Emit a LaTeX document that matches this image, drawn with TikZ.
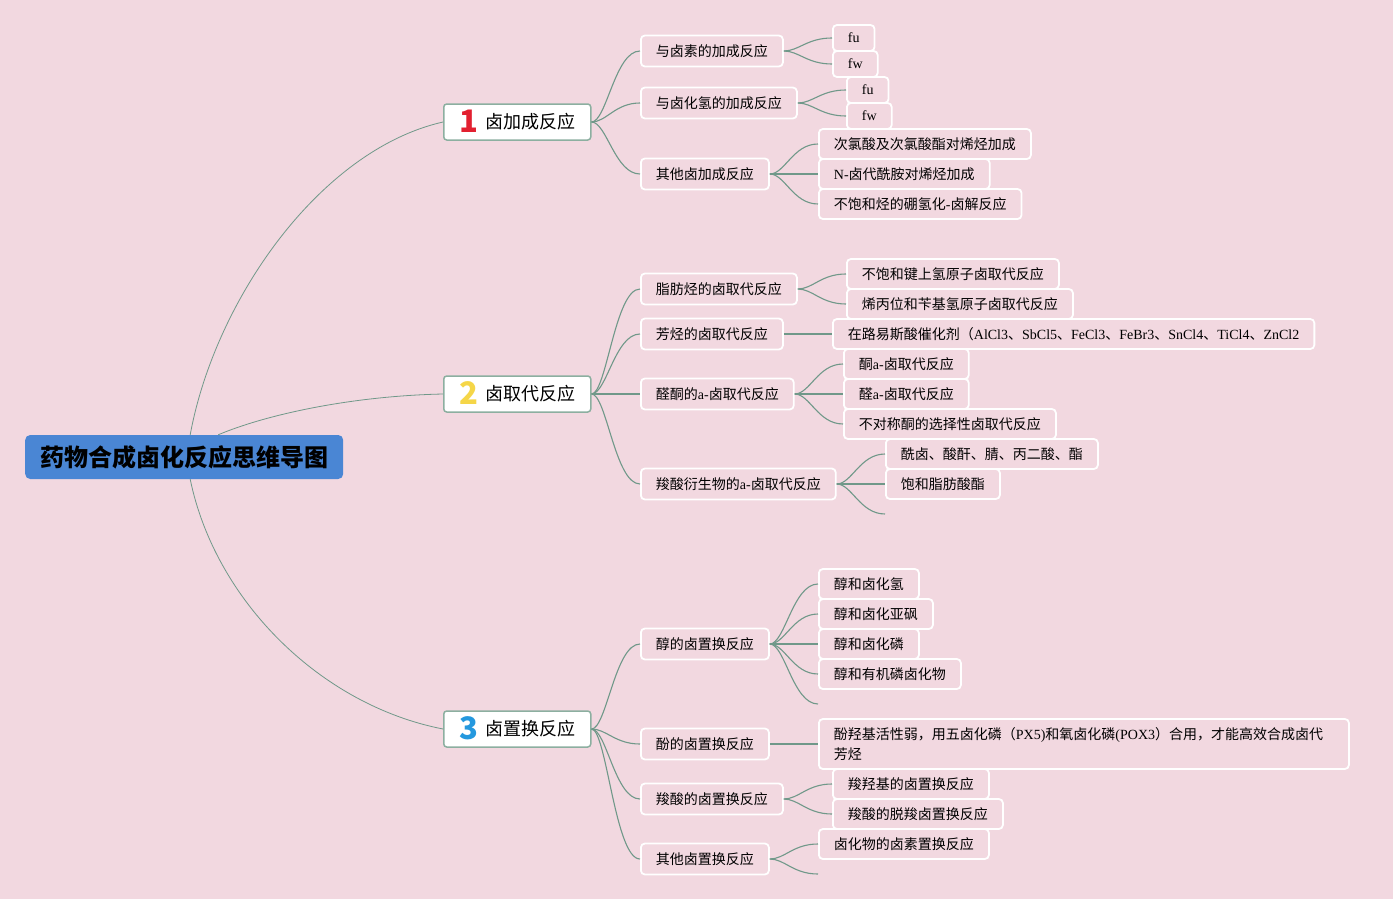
\documentclass[tikz,border=0pt]{standalone}
\usepackage{fontspec}
\setmainfont{Liberation Serif}
\newfontfamily\cjk{Noto Sans CJK SC}
\usepackage{xcolor}
\usepackage{tikz}
\definecolor{bgpink}{RGB}{242,216,224}
\definecolor{linkgreen}{RGB}{112,152,137}
\definecolor{mainborder}{RGB}{140,175,160}
\definecolor{rootblue}{RGB}{74,134,212}
\definecolor{numred}{RGB}{226,32,48}
\definecolor{numyellow}{RGB}{245,214,72}
\definecolor{numblue}{RGB}{36,152,222}
\newcommand{\ltn}[1]{{\rmfamily #1}}
\newcommand{\topicnum}[2]{\raisebox{-4pt}[0pt][0pt]{\bfseries\fontsize{31}{31}\selectfont\textcolor{#1}{#2}}\hspace{7pt}}

\begin{document}
\begin{tikzpicture}[x=1pt, y=-1pt,
    rootblock/.style={rectangle, fill=rootblue, rounded corners=5pt, minimum width=318pt, minimum height=44pt, anchor=west, font=\cjk\bfseries\fontsize{24}{28}\selectfont},
    mainblock/.style={rectangle, draw=mainborder, line width=1.5pt, fill=white, rounded corners=3pt, minimum width=147pt, minimum height=36pt, anchor=west, font=\cjk\fontsize{18}{22}\selectfont},
    subblock/.style={rectangle, draw=white, line width=1.8pt, rounded corners=4pt, inner xsep=15pt, minimum height=31pt, anchor=west, font=\cjk\fontsize{14}{17}\selectfont},
    leafblock/.style={subblock, minimum height=30pt},
    tinyblock/.style={subblock, minimum height=26pt},
    link/.style={draw=linkgreen, line width=1.1pt},
    rootlink/.style={draw=linkgreen, line width=0.8pt},
    branch/.style={to path={.. controls ([xshift=15pt]\tikztostart) and ([xshift=-25pt]\tikztotarget) .. (\tikztotarget)}}]

    \fill [bgpink] (0,0) rectangle (1393,899);

    % root and main topics
    \node [rootblock] (root) at (25,457) {药物合成卤化反应思维导图};
    \node [mainblock] (m1) at (443,122) {\topicnum{numred}{1}卤加成反应};
    \node [mainblock] (m2) at (443,394) {\topicnum{numyellow}{2}卤取代反应};
    \node [mainblock] (m3) at (443,729) {\topicnum{numblue}{3}卤置换反应};

    % 1 卤加成反应
    \node [subblock] (s11) at (640,51) {与卤素的加成反应};
    \node [subblock] (s12) at (640,103) {与卤化氢的加成反应};
    \node [subblock] (s13) at (640,174) {其他卤加成反应};
    \node [tinyblock] (l111) at (832,38) {\ltn{fu}};
    \node [tinyblock] (l112) at (832,64) {\ltn{fw}};
    \node [tinyblock] (l121) at (846,90) {\ltn{fu}};
    \node [tinyblock] (l122) at (846,116) {\ltn{fw}};
    \node [leafblock] (l131) at (818,144) {次氯酸及次氯酸酯对烯烃加成};
    \node [leafblock] (l132) at (818,174) {\ltn{N-}卤代酰胺对烯烃加成};
    \node [leafblock] (l133) at (818,204) {不饱和烃的硼氢化\ltn{-}卤解反应};

    % 2 卤取代反应
    \node [subblock] (s21) at (640,289) {脂肪烃的卤取代反应};
    \node [subblock] (s22) at (640,334) {芳烃的卤取代反应};
    \node [subblock] (s23) at (640,394) {醛酮的\ltn{a-}卤取代反应};
    \node [subblock] (s24) at (640,484) {羧酸衍生物的\ltn{a-}卤取代反应};
    \node [leafblock] (l211) at (846,274) {不饱和键上氢原子卤取代反应};
    \node [leafblock] (l212) at (846,304) {烯丙位和苄基氢原子卤取代反应};
    \node [leafblock] (l221) at (832,334) {在路易斯酸催化剂（\ltn{AlCl3}、\ltn{SbCl5}、\ltn{FeCl3}、\ltn{FeBr3}、\ltn{SnCl4}、\ltn{TiCl4}、\ltn{ZnCl2}};
    \node [leafblock] (l231) at (843,364) {酮\ltn{a-}卤取代反应};
    \node [leafblock] (l232) at (843,394) {醛\ltn{a-}卤取代反应};
    \node [leafblock] (l233) at (843,424) {不对称酮的选择性卤取代反应};
    \node [leafblock] (l241) at (885,454) {酰卤、酸酐、腈、丙二酸、酯};
    \node [leafblock] (l242) at (885,484) {饱和脂肪酸酯};
    \coordinate (e243) at (885,514);

    % 3 卤置换反应
    \node [subblock] (s31) at (640,644) {醇的卤置换反应};
    \node [subblock] (s32) at (640,744) {酚的卤置换反应};
    \node [subblock] (s33) at (640,799) {羧酸的卤置换反应};
    \node [subblock] (s34) at (640,859) {其他卤置换反应};
    \node [leafblock] (l311) at (818,584) {醇和卤化氢};
    \node [leafblock] (l312) at (818,614) {醇和卤化亚砜};
    \node [leafblock] (l313) at (818,644) {醇和卤化磷};
    \node [leafblock] (l314) at (818,674) {醇和有机磷卤化物};
    \coordinate (e315) at (818,704);
    \node [leafblock, minimum height=50pt, text width=500pt, align=left, font=\cjk\fontsize{14}{20}\selectfont] (l321) at (818,744) {酚羟基活性弱，用五卤化磷（\ltn{PX5)}和氧卤化磷\ltn{(POX3}）合用，才能高效合成卤代\\芳烃};
    \node [leafblock] (l331) at (832,784) {羧羟基的卤置换反应};
    \node [leafblock] (l332) at (832,814) {羧酸的脱羧卤置换反应};
    \node [leafblock] (l341) at (818,844) {卤化物的卤素置换反应};
    \coordinate (e342) at (818,874);

    % root links
    \draw [rootlink] ([xshift=6pt]root.north) .. controls (215,300) and (320,150) .. (m1.west);
    \draw [rootlink] ([xshift=34pt]root.north) .. controls (265,415) and (350,396) .. (m2.west);
    \draw [rootlink] ([xshift=6pt]root.south) .. controls (215,600) and (320,705) .. (m3.west);

    % main links
    \draw [link] (m1.east) to[branch] (s11.west);
    \draw [link] (m1.east) to[branch] (s12.west);
    \draw [link] (m1.east) to[branch] (s13.west);
    \draw [link] (m2.east) to[branch] (s21.west);
    \draw [link] (m2.east) to[branch] (s22.west);
    \draw [link] (m2.east) to[branch] (s23.west);
    \draw [link] (m2.east) to[branch] (s24.west);
    \draw [link] (m3.east) to[branch] (s31.west);
    \draw [link] (m3.east) to[branch] (s32.west);
    \draw [link] (m3.east) to[branch] (s33.west);
    \draw [link] (m3.east) to[branch] (s34.west);

    % sub links
    \draw [link] (s11.east) to[branch] (l111.west);
    \draw [link] (s11.east) to[branch] (l112.west);
    \draw [link] (s12.east) to[branch] (l121.west);
    \draw [link] (s12.east) to[branch] (l122.west);
    \draw [link] (s13.east) to[branch] (l131.west);
    \draw [link] (s13.east) -- (l132.west);
    \draw [link] (s13.east) to[branch] (l133.west);
    \draw [link] (s21.east) to[branch] (l211.west);
    \draw [link] (s21.east) to[branch] (l212.west);
    \draw [link] (s22.east) -- (l221.west);
    \draw [link] (s23.east) to[branch] (l231.west);
    \draw [link] (s23.east) -- (l232.west);
    \draw [link] (s23.east) to[branch] (l233.west);
    \draw [link] (s24.east) to[branch] (l241.west);
    \draw [link] (s24.east) -- (l242.west);
    \draw [link] (s24.east) to[branch] (e243);
    \draw [link] (s31.east) to[branch] (l311.west);
    \draw [link] (s31.east) to[branch] (l312.west);
    \draw [link] (s31.east) -- (l313.west);
    \draw [link] (s31.east) to[branch] (l314.west);
    \draw [link] (s31.east) to[branch] (e315);
    \draw [link] (s32.east) -- (l321.west);
    \draw [link] (s33.east) to[branch] (l331.west);
    \draw [link] (s33.east) to[branch] (l332.west);
    \draw [link] (s34.east) to[branch] (l341.west);
    \draw [link] (s34.east) to[branch] (e342);

\end{tikzpicture}
\end{document}
